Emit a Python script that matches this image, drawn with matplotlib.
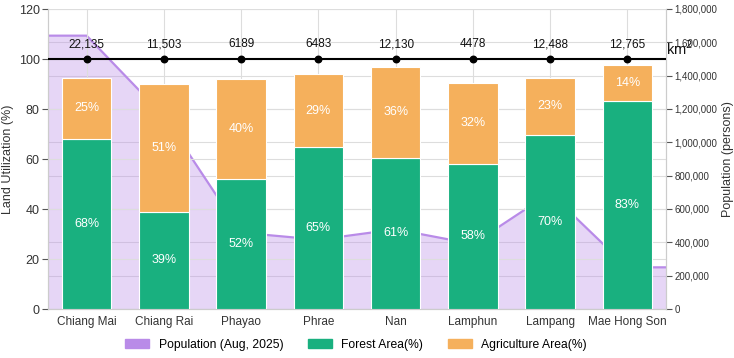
import matplotlib.pyplot as plt
import numpy as np
from matplotlib.patches import Patch

plt.rcParams['font.family'] = ['Liberation Sans', 'DejaVu Sans']

# data
provinces = ['Chiang Mai', 'Chiang Rai', 'Phayao', 'Phrae', 'Nan', 'Lamphun', 'Lampang', 'Mae Hong Son']
forest_pct = [68.0, 38.9, 52.0, 64.8, 60.6, 58.2, 69.8, 83.4]
agri_pct = [24.6, 51.0, 40.0, 29.2, 36.2, 32.1, 22.8, 14.1]
area_km2 = ['22,135', '11,503', '6189', '6483', '12,130', '4478', '12,488', '12,765']
population = [1640000, 1158000, 458000, 416000, 478000, 390000, 696000, 250000]

GREEN = '#19b07f'
ORANGE = '#f5b05c'
PURPLE = '#b98be8'
GRID = '#dddddd'

fig = plt.figure(figsize=(7.34, 3.58), dpi=100)
ax = fig.add_axes([48/734, 1 - 309/358, 618/734, 300/358])
ax2 = ax.twinx()
ax.set_zorder(ax2.get_zorder() + 1)
ax.patch.set_visible(False)

x = np.arange(len(provinces))

# population area, held flat out to the plot edges
px = np.concatenate([[-0.5], x, [len(x) - 0.5]])
py = np.concatenate([[population[0]], population, [population[-1]]])
ax2.fill_between(px, 0, py, color=PURPLE, alpha=0.35, lw=0, zorder=2)
ax2.plot(px, py, color=PURPLE, lw=1.6, zorder=3)
ax2.set_ylim(0, 1800000)
ax2.set_yticks(np.arange(0, 1800001, 200000))
ax2.set_yticklabels(['{:,}'.format(v) for v in range(0, 1800001, 200000)], fontsize=7, color='#333333')
ax2.grid(True, axis='y', color=GRID, lw=0.8, zorder=0)
ax2.set_axisbelow(True)
ax2.set_ylabel('Population (persons)', fontsize=9, color='#333333', labelpad=3)
ax2.tick_params(axis='y', length=4, width=0.8, color='#555555', pad=2)

# stacked bars
w = 0.64
ax.bar(x, forest_pct, w, color=GREEN, edgecolor='white', lw=0.8, zorder=3)
ax.bar(x, agri_pct, w, bottom=forest_pct, color=ORANGE, edgecolor='white', lw=0.8, zorder=3)
for i in range(len(x)):
    ax.text(x[i], forest_pct[i] / 2, '%.0f%%' % forest_pct[i], ha='center', va='center',
            color='white', fontsize=9, zorder=4)
    ax.text(x[i], forest_pct[i] + agri_pct[i] / 2, '%.0f%%' % agri_pct[i], ha='center', va='center',
            color='white', fontsize=9, zorder=4)

# area line at 100
ax.axhline(100, color='black', lw=1.5, zorder=5)
ax.scatter(x, [100] * len(x), color='black', s=22, zorder=6)
for i in range(len(x)):
    ax.text(x[i], 103.5, area_km2[i], ha='center', va='bottom', fontsize=8.5, color='#111111', zorder=6)
ax.text(1.0, 100.3, 'km$^2$', transform=ax.get_yaxis_transform(), ha='left', va='bottom',
        fontsize=10.5, color='#111111')

ax.set_xlim(-0.5, len(x) - 0.5)
ax.set_ylim(0, 120)
ax.set_yticks(range(0, 121, 20))
ax.set_xticks(x)
ax.set_xticklabels(provinces, fontsize=8.5, color='#333333')
ax.tick_params(axis='y', labelsize=9, labelcolor='#333333', length=4, width=0.8, color='#555555', pad=2)
ax.tick_params(axis='x', length=0, pad=5)
ax.grid(True, color=GRID, lw=0.8, zorder=0)
ax.set_axisbelow(True)
ax.set_ylabel('Land Utilization (%)', fontsize=9, color='#333333', labelpad=3)

for a in (ax, ax2):
    for s in a.spines.values():
        s.set_color('#cccccc')
        s.set_linewidth(0.8)
    a.spines['top'].set_visible(False)

handles = [Patch(color=PURPLE), Patch(color=GREEN), Patch(color=ORANGE)]
labels = ['Population (Aug, 2025)', 'Forest Area(%)', 'Agriculture Area(%)']
fig.legend(handles, labels, loc='center', ncol=3, frameon=False, fontsize=8.7,
           bbox_to_anchor=(356/734, 1 - 345/358), handlelength=2.0, handleheight=0.8,
           handletextpad=0.8, columnspacing=2.0)

fig.savefig('out.png', dpi=100)
